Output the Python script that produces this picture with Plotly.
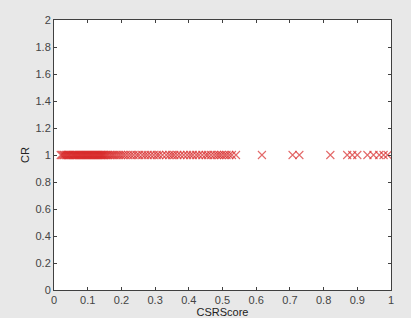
import plotly.graph_objects as go

csr_dense = [0.020, 0.024, 0.028, 0.031, 0.035, 0.038, 0.042, 0.045, 0.048, 0.052,
             0.055, 0.058, 0.061, 0.064, 0.067, 0.070, 0.073, 0.076, 0.079, 0.082,
             0.085, 0.088, 0.091, 0.094, 0.097, 0.100, 0.103, 0.106, 0.109, 0.112,
             0.115, 0.118, 0.121, 0.124, 0.127, 0.130, 0.133, 0.136, 0.139, 0.142,
             0.145, 0.148, 0.152, 0.156, 0.160, 0.165, 0.170, 0.175, 0.180, 0.186,
             0.192, 0.198]
csr_mid = [0.205, 0.212, 0.220, 0.228, 0.236, 0.245, 0.252, 0.262, 0.270, 0.278,
           0.287, 0.296, 0.305, 0.312, 0.322, 0.333, 0.342, 0.350, 0.357, 0.366,
           0.375, 0.385, 0.395, 0.404, 0.412, 0.422, 0.430, 0.440, 0.450, 0.457,
           0.466, 0.475, 0.483, 0.490, 0.497, 0.505, 0.512, 0.520, 0.528, 0.540]
csr_sparse = [0.617, 0.708, 0.728, 0.820, 0.870, 0.885, 0.900, 0.930, 0.948, 0.965,
              0.978, 0.990]
csr = csr_dense + csr_mid + csr_sparse
cr = [1] * len(csr)

x_ticks = [0, 0.1, 0.2, 0.3, 0.4, 0.5, 0.6, 0.7, 0.8, 0.9, 1]
y_ticks = [0, 0.2, 0.4, 0.6, 0.8, 1, 1.2, 1.4, 1.6, 1.8, 2]
x_ticktext = ["0", "0.1", "0.2", "0.3", "0.4", "0.5", "0.6", "0.7", "0.8", "0.9", "1"]
y_ticktext = ["0", "0.2", "0.4", "0.6", "0.8", "1", "1.2", "1.4", "1.6", "1.8", "2"]

font_family = "Liberation Sans, Arial, sans-serif"

fig = go.Figure()
fig.add_trace(go.Scatter(
    x=csr, y=cr, mode="markers",
    marker=dict(symbol="x-thin", size=8,
                line=dict(width=1.1, color="rgba(215,40,40,0.7)")),
    showlegend=False,
))

axis_common = dict(
    showgrid=False, zeroline=False, showline=True, mirror="ticks",
    linecolor="#404040", linewidth=1, ticks="inside", ticklen=3,
    tickcolor="#404040", tickfont=dict(family=font_family, size=11, color="#444444"),
)
fig.update_xaxes(range=[0, 1], tickvals=x_ticks, ticktext=x_ticktext,
                 title=dict(text="CSRScore", standoff=1,
                            font=dict(family=font_family, size=11, color="#222222")),
                 **axis_common)
fig.update_yaxes(range=[0, 2], tickvals=y_ticks, ticktext=y_ticktext,
                 title=dict(text="CR", standoff=3,
                            font=dict(family=font_family, size=11, color="#222222")),
                 **axis_common)
fig.update_layout(
    width=411, height=318,
    margin=dict(l=54, r=20, t=20, b=28, autoexpand=False),
    paper_bgcolor="#e8e8e8", plot_bgcolor="white",
)
fig.write_html("out.html", config={"displayModeBar": False, "staticPlot": True},
               post_script="document.body.style.margin='0';document.body.style.padding='0';"
                           "document.body.style.overflow='hidden';")
